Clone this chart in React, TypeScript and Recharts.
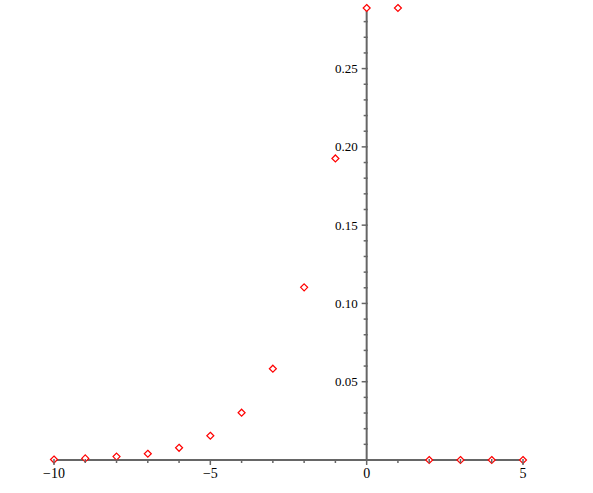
import { ScatterChart, Scatter, XAxis, YAxis, ReferenceLine } from 'recharts'

const xValues = [-10, -9, -8, -7, -6, -5, -4, -3, -2, -1, 0, 1, 2, 3, 4, 5]
const yValues = [0.0003, 0.001, 0.0022, 0.004, 0.0078, 0.0155, 0.0302, 0.0583, 0.1103, 0.1926, 0.2887, 0.2887, 0, 0, 0, 0]
const xTicks = [-10, -9, -8, -7, -6, -5, -4, -3, -2, -1, 0, 1, 2, 3, 4, 5]
const xLabels = [-10, -5, 0, 5]
const yTicks = [0.01, 0.02, 0.03, 0.04, 0.05, 0.06, 0.07, 0.08, 0.09, 0.1, 0.11, 0.12, 0.13, 0.14, 0.15, 0.16, 0.17, 0.18, 0.19, 0.2, 0.21, 0.22, 0.23, 0.24, 0.25, 0.26, 0.27, 0.28]
const yLabels = ['0.05', '0.10', '0.15', '0.20', '0.25']

const data = xValues.map((x, i) => ({ x, y: yValues[i] }))

const W = 593
const H = 493
const margin = { top: 8, right: 70, bottom: 0, left: 0 }
const Y_AXIS_W = 54
const X_MIN = -10
const X_MAX = 5
const AXIS_COLOR = '#666'
const FONT = '"Liberation Serif", "DejaVu Serif", serif'

// the vertical axis sits at x = 0, not at the left edge
const plotLeft = margin.left + Y_AXIS_W
const plotWidth = W - plotLeft - margin.right
const AXIS_X = plotLeft + ((0 - X_MIN) / (X_MAX - X_MIN)) * plotWidth

const fmtX = (v: number) => (v < 0 ? '\u2212' + Math.abs(v) : String(v))

function XTick(props: any) {
  const { x, y, payload } = props
  const v = payload.value
  const major = xLabels.includes(v)
  return (
    <g>
      <line x1={x} x2={x} y1={y - 1} y2={y + (major ? 5 : 3)} stroke={AXIS_COLOR} strokeWidth={1.5} />
      {major && (
        <text x={x} y={y + 18} textAnchor="middle" fontFamily={FONT} fontSize={14} fill="#000">
          {fmtX(v)}
        </text>
      )}
    </g>
  )
}

function YTick(props: any) {
  const { y, payload } = props
  const label = yLabels.find((l) => Math.abs(parseFloat(l) - payload.value) < 1e-6)
  return (
    <g>
      <line x1={AXIS_X - (label ? 5 : 3)} x2={AXIS_X + 1} y1={y} y2={y} stroke={AXIS_COLOR} strokeWidth={1.5} />
      {label && (
        <text x={AXIS_X - 9} y={y} dy="0.35em" textAnchor="end" fontFamily={FONT} fontSize={13} fill="#000">
          {label}
        </text>
      )}
    </g>
  )
}

function Diamond(props: any) {
  const { cx, cy } = props
  const r = 3.5
  return (
    <polygon
      points={`${cx},${cy - r} ${cx + r},${cy} ${cx},${cy + r} ${cx - r},${cy}`}
      fill="#fff"
      stroke="#ff0000"
      strokeWidth={1.2}
    />
  )
}

export default function App() {
  return (
    <div style={{ position: 'absolute', left: 0, top: 0, background: '#fff' }}>
      <ScatterChart width={W} height={H} margin={margin}>
        <XAxis
          type="number"
          dataKey="x"
          domain={[X_MIN, X_MAX]}
          ticks={xTicks}
          interval={0}
          tickLine={false}
          tickSize={0}
          tickMargin={0}
          height={33}
          axisLine={{ stroke: AXIS_COLOR, strokeWidth: 2 }}
          tick={(p: any) => <XTick {...p} />}
        />
        <YAxis
          type="number"
          dataKey="y"
          domain={[0, 0.2887]}
          ticks={yTicks}
          interval={0}
          width={Y_AXIS_W}
          tickLine={false}
          axisLine={false}
          tick={(p: any) => <YTick {...p} />}
        />
        <ReferenceLine x={0} stroke={AXIS_COLOR} strokeWidth={2} />
        <Scatter data={data} shape={<Diamond />} isAnimationActive={false} />
      </ScatterChart>
    </div>
  )
}
